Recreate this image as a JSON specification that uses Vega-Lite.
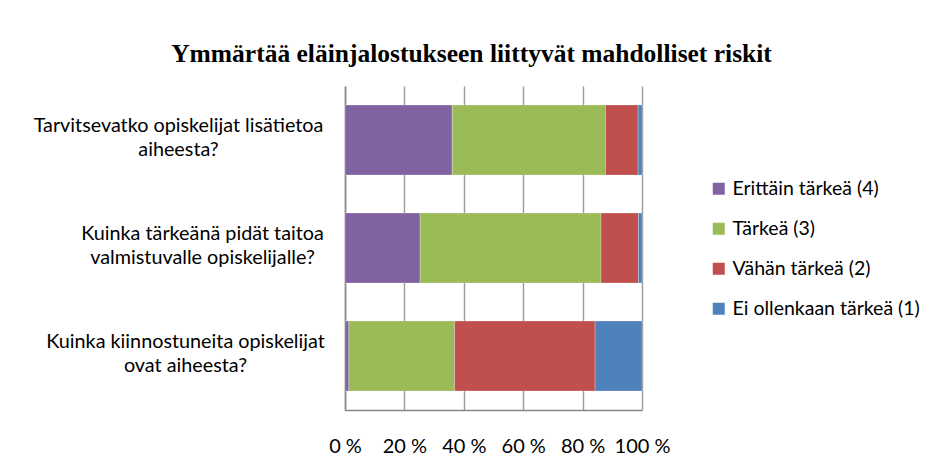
{
  "$schema": "https://vega.github.io/schema/vega-lite/v6.json",
  "autosize": "none",
  "width": 297,
  "height": 324,
  "padding": {"left": 345, "top": 86, "right": 283, "bottom": 60},
  "background": "white",
  "title": {
    "text": "Ymmärtää eläinjalostukseen liittyvät mahdolliset riskit",
    "font": "Liberation Serif",
    "fontSize": 25.5,
    "fontWeight": "bold",
    "color": "#000000",
    "anchor": "middle",
    "frame": "group",
    "dx": -22,
    "offset": -1,
    "baseline": "alphabetic"
  },
  "data": {
    "values": [
      {"question": "Tarvitsevatko opiskelijat lisätietoa|aiheesta?", "category": "Erittäin tärkeä (4)", "order": 1, "value": 36.1},
      {"question": "Tarvitsevatko opiskelijat lisätietoa|aiheesta?", "category": "Tärkeä (3)", "order": 2, "value": 51.6},
      {"question": "Tarvitsevatko opiskelijat lisätietoa|aiheesta?", "category": "Vähän tärkeä (2)", "order": 3, "value": 11.0},
      {"question": "Tarvitsevatko opiskelijat lisätietoa|aiheesta?", "category": "Ei ollenkaan tärkeä (1)", "order": 4, "value": 1.3},
      {"question": "Kuinka tärkeänä pidät taitoa|valmistuvalle opiskelijalle?", "category": "Erittäin tärkeä (4)", "order": 1, "value": 25.3},
      {"question": "Kuinka tärkeänä pidät taitoa|valmistuvalle opiskelijalle?", "category": "Tärkeä (3)", "order": 2, "value": 60.9},
      {"question": "Kuinka tärkeänä pidät taitoa|valmistuvalle opiskelijalle?", "category": "Vähän tärkeä (2)", "order": 3, "value": 12.6},
      {"question": "Kuinka tärkeänä pidät taitoa|valmistuvalle opiskelijalle?", "category": "Ei ollenkaan tärkeä (1)", "order": 4, "value": 1.2},
      {"question": "Kuinka kiinnostuneita opiskelijat|ovat aiheesta?", "category": "Erittäin tärkeä (4)", "order": 1, "value": 1.3},
      {"question": "Kuinka kiinnostuneita opiskelijat|ovat aiheesta?", "category": "Tärkeä (3)", "order": 2, "value": 35.6},
      {"question": "Kuinka kiinnostuneita opiskelijat|ovat aiheesta?", "category": "Vähän tärkeä (2)", "order": 3, "value": 47.3},
      {"question": "Kuinka kiinnostuneita opiskelijat|ovat aiheesta?", "category": "Ei ollenkaan tärkeä (1)", "order": 4, "value": 15.8}
    ]
  },
  "mark": {"type": "bar", "stroke": "#ffffff", "strokeWidth": 0.4, "strokeOpacity": 0.6},
  "encoding": {
    "y": {
      "field": "question",
      "type": "nominal",
      "sort": [
        "Tarvitsevatko opiskelijat lisätietoa|aiheesta?",
        "Kuinka tärkeänä pidät taitoa|valmistuvalle opiskelijalle?",
        "Kuinka kiinnostuneita opiskelijat|ovat aiheesta?"
      ],
      "scale": {"paddingInner": 0.352, "paddingOuter": 0.176},
      "axis": {
        "title": null,
        "labelExpr": "split(datum.value, '|')",
        "labelAlign": "center",
        "labelBaseline": "middle",
        "labelLineHeight": 24,
        "labelOffset": -14,
        "labelFont": "Lato",
        "labelFontSize": 19.8,
        "labelColor": "#000000",
        "labelLimit": 400,
        "labelPadding": {
          "condition": [
            {"test": "datum.value == 'Tarvitsevatko opiskelijat lisätietoa|aiheesta?'", "value": 167},
            {"test": "datum.value == 'Kuinka tärkeänä pidät taitoa|valmistuvalle opiskelijalle?'", "value": 143}
          ],
          "value": 160
        },
        "ticks": false,
        "domainColor": "#868686",
        "domainWidth": 1.5,
        "grid": false
      }
    },
    "x": {
      "field": "value",
      "type": "quantitative",
      "stack": "zero",
      "scale": {"domain": [0, 100], "nice": false},
      "axis": {
        "title": null,
        "values": [0, 20, 40, 60, 80, 100],
        "labelExpr": "datum.value + ' %'",
        "labelFont": "Lato",
        "labelFontSize": 20,
        "labelColor": "#000000",
        "labelBaseline": "top",
        "labelPadding": 26,
        "labelFlush": false,
        "labelOverlap": false,
        "ticks": false,
        "domainColor": "#868686",
        "domainWidth": 1.5,
        "grid": true,
        "gridColor": "#9a9a9a",
        "gridWidth": 1.4
      }
    },
    "color": {
      "field": "category",
      "type": "nominal",
      "scale": {
        "domain": ["Erittäin tärkeä (4)", "Tärkeä (3)", "Vähän tärkeä (2)", "Ei ollenkaan tärkeä (1)"],
        "range": ["#8064A2", "#9BBB59", "#C0504D", "#4F81BD"]
      },
      "legend": {
        "title": null,
        "orient": "none",
        "legendX": 364,
        "legendY": 93,
        "padding": 0,
        "symbolType": "square",
        "symbolSize": 144,
        "symbolStrokeWidth": 0,
        "labelFont": "Lato",
        "labelFontSize": 19.5,
        "labelColor": "#000000",
        "labelOffset": 4,
        "rowPadding": 19,
        "labelLimit": 300
      }
    },
    "order": {"field": "order", "type": "quantitative"}
  },
  "config": {
    "view": {"stroke": null}
  }
}
